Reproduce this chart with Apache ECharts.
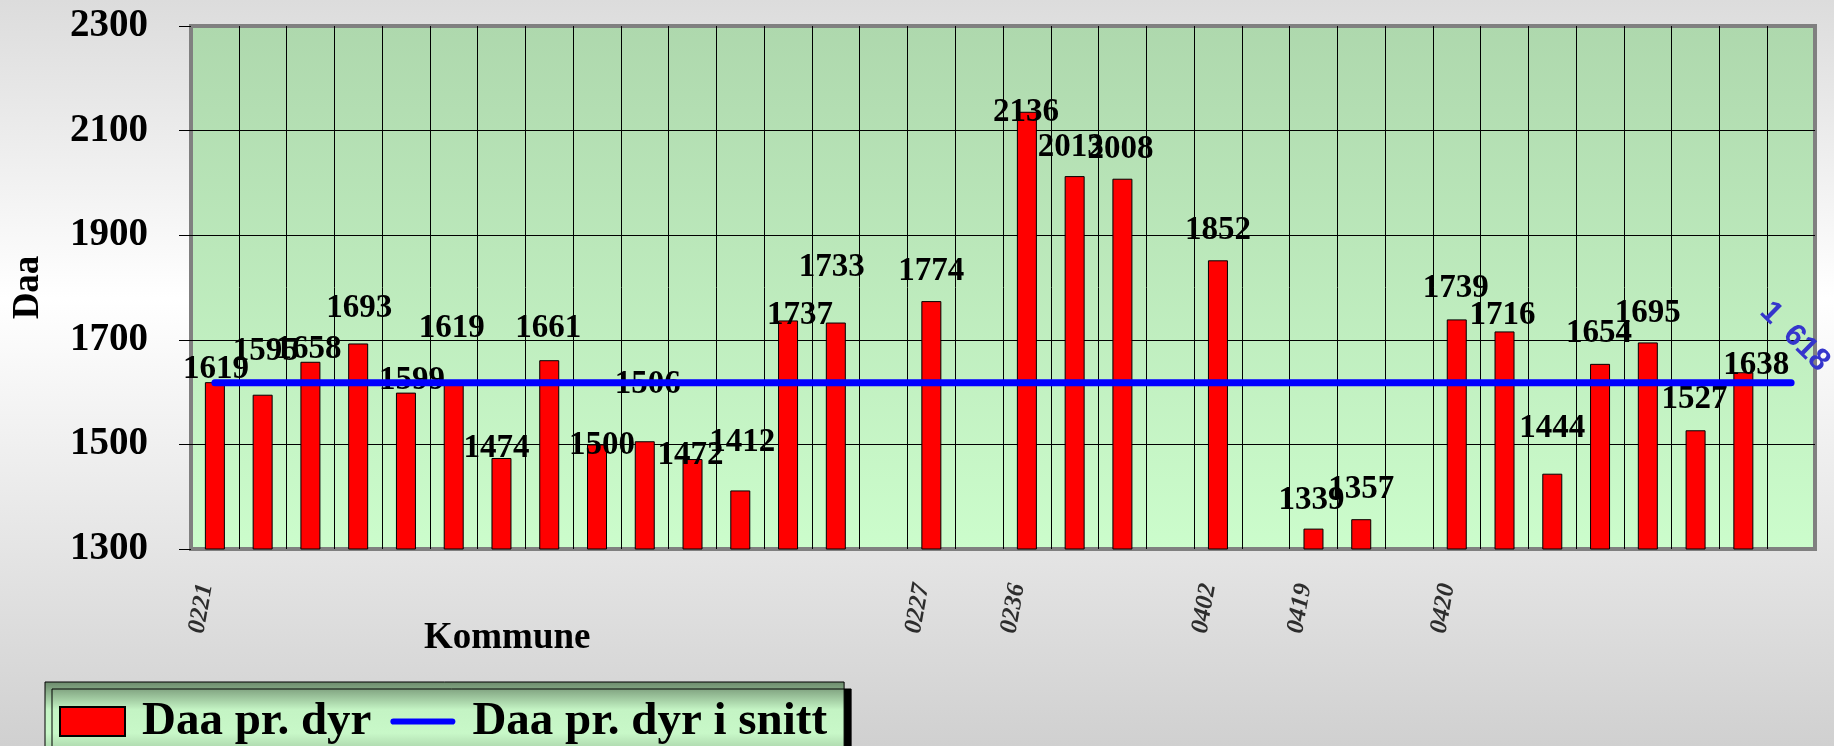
<!DOCTYPE html>
<html>
<head>
<meta charset="utf-8">
<title>Daa pr. dyr</title>
<script src="https://cdn.jsdelivr.net/npm/echarts/dist/echarts.min.js"></script>
<style>
  html, body { margin: 0; padding: 0; }
  #chart { width: 1834px; height: 746px; }
</style>
</head>
<body>
<div id="chart"></div>
<script>
// kommune codes, only the ones printed on the axis
var categories = ['0221', '', '', '', '', '', '', '', '', '', '', '', '', '', '',
    '0227', '', '0236', '', '', '', '0402', '', '0419', '', '', '0420',
    '', '', '', '', '', '', ''];

// Daa pr. dyr (null = no bar)
var daaPrDyr = [1619, 1595, 1658, 1693, 1599, 1619, 1474, 1661, 1500, 1506,
    1472, 1412, 1737, 1733, null, 1774, null, 2136, 2013, 2008,
    null, 1852, null, 1339, 1357, null, 1739, 1716, 1444, 1654,
    1695, 1527, 1638, null];

// Daa pr. dyr i snitt
var snitt = [1618, 1618, 1618, 1618, 1618, 1618, 1618, 1618, 1618, 1618,
    1618, 1618, 1618, 1618, 1618, 1618, 1618, 1618, 1618, 1618,
    1618, 1618, 1618, 1618, 1618, 1618, 1618, 1618, 1618, 1618,
    1618, 1618, 1618, 1618];

var yMin = 1300, yMax = 2300, yStep = 200;

// nudges for the bar value labels, they sit a bit scattered in the original
var labelShift = [[1, 17], [3, -14], [-2, 17], [1, -5], [6, 17], [-2, -24], [-5, 20], [-1, -2], [5, 31], [3, -27],
    [-2, 26], [2, -18], [12, 25], [-4, -26], null, [0, 0], null, [-1, 30], [-4, 1], [-2, 0],
    null, [0, 0], null, [-2, 1], [0, 0], null, [-1, -1], [-2, 14], [0, -16], [-1, -1],
    [0, 1], [-1, -1], [13, 23], null];

var serif = 'Liberation Serif';

// norwegian thousands separator
function spaced(v) {
    return String(v).replace(/\B(?=(\d{3})+(?!\d))/g, '\u2002');
}

var chart = echarts.init(document.getElementById('chart'));

var barData = daaPrDyr.map(function (v, i) {
    if (v == null) return '-';
    return { value: v, label: { offset: labelShift[i] } };
});

var lineData = snitt.map(function (v, i) {
    if (i === snitt.length - 1) {
        return { value: v, label: { show: true } };
    }
    return v;
});

// the kommune codes hang under the axis, drawn as labels on the bottom edge
var codeData = categories.map(function (c) {
    return c ? yMin : '-';
});

var option = {
    backgroundColor: new echarts.graphic.LinearGradient(0, 0, 0, 1, [
        { offset: 0, color: '#dcdcdc' },
        { offset: 0.4, color: '#ffffff' },
        { offset: 1, color: '#d0d0d0' }
    ]),
    animation: false,
    title: {
        text: 'Kommune',
        left: 424,
        top: 620,
        padding: 0,
        textStyle: { fontFamily: serif, fontWeight: 'bold', fontSize: 37, color: '#000' }
    },
    legend: {
        left: 45,
        top: 682,
        padding: [16, 17, 30, 14],
        itemWidth: 65,
        itemHeight: 29,
        itemGap: 19,
        backgroundColor: new echarts.graphic.LinearGradient(0, 0, 0, 1, [
            { offset: 0, color: '#6a886a' },
            { offset: 0.3, color: '#c4f4c4' },
            { offset: 0.55, color: '#c8f8c8' },
            { offset: 1, color: '#7f9f7f' }
        ]),
        borderColor: '#000',
        borderWidth: 1,
        shadowColor: '#000',
        shadowOffsetX: 7,
        shadowOffsetY: 7,
        shadowBlur: 0,
        textStyle: { fontFamily: serif, fontWeight: 'bold', fontSize: 47, color: '#000', padding: [0, 0, 0, 12] },
        data: [
            { name: 'Daa pr. dyr', icon: 'rect' },
            { name: 'Daa pr. dyr i snitt', icon: 'path://M3.5,0 H69.5 A3.5,3.5 0 0 1 69.5,7 H3.5 A3.5,3.5 0 0 1 3.5,0 Z' }
        ]
    },
    grid: {
        left: 191,
        right: 19,
        top: 26,
        bottom: 197,
        show: true,
        borderColor: '#808080',
        borderWidth: 4,
        backgroundColor: new echarts.graphic.LinearGradient(0, 0, 0, 1, [
            { offset: 0, color: '#aed8ad' },
            { offset: 1, color: '#ccfdcc' }
        ])
    },
    xAxis: {
        type: 'category',
        data: categories,
        boundaryGap: true,
        axisLine: { show: false },
        axisTick: { show: false },
        axisLabel: { show: false },
        splitLine: {
            show: true,
            interval: 0,
            showMinLine: false,
            showMaxLine: false,
            lineStyle: { color: '#000', width: 1 }
        }
    },
    yAxis: {
        type: 'value',
        min: yMin,
        max: yMax,
        interval: yStep,
        name: 'Daa',
        nameLocation: 'middle',
        nameGap: 144,
        nameTextStyle: { fontFamily: serif, fontWeight: 'bold', fontSize: 37, color: '#000' },
        axisLine: { show: false },
        axisTick: { show: true, length: 12, lineStyle: { color: '#000', width: 1 } },
        axisLabel: {
            margin: 43,
            formatter: function (v) { return String(v); },
            fontFamily: serif,
            fontWeight: 'bold',
            fontSize: 39,
            color: '#000'
        },
        splitLine: {
            show: true,
            showMinLine: false,
            showMaxLine: false,
            lineStyle: { color: '#000', width: 1 }
        }
    },
    series: [
        {
            name: 'Daa pr. dyr',
            type: 'bar',
            data: barData,
            barWidth: 20,
            itemStyle: { color: '#ff0000', borderColor: '#000', borderWidth: 1 },
            label: {
                show: true,
                position: 'top',
                distance: 13,
                fontFamily: serif,
                fontWeight: 'bold',
                fontSize: 33,
                color: '#000'
            },
            z: 2
        },
        {
            name: 'Daa pr. dyr i snitt',
            type: 'line',
            data: lineData,
            symbol: 'circle',
            symbolSize: 0,
            showSymbol: true,
            showAllSymbol: true,
            color: '#0000ff',
            lineStyle: { color: '#0000ff', width: 7, cap: 'round' },
            label: {
                show: false,
                position: 'inside',
                rotate: -45,
                offset: [-30, -35],
                formatter: function (p) { return spaced(p.value); },
                fontFamily: 'Liberation Sans',
                fontWeight: 'bold',
                fontSize: 31,
                color: '#3535cc'
            },
            z: 3
        },
        {
            name: 'Kommune',
            type: 'scatter',
            data: codeData,
            symbolSize: 0,
            silent: true,
            clip: false,
            label: {
                show: true,
                position: 'inside',
                rotate: 80,
                offset: [-61, -3],
                formatter: function (p) { return categories[p.dataIndex]; },
                fontFamily: serif,
                fontWeight: 'bold',
                fontStyle: 'italic',
                fontSize: 25,
                color: '#000'
            },
            z: 1
        }
    ]
};

chart.setOption(option);
</script>
</body>
</html>
